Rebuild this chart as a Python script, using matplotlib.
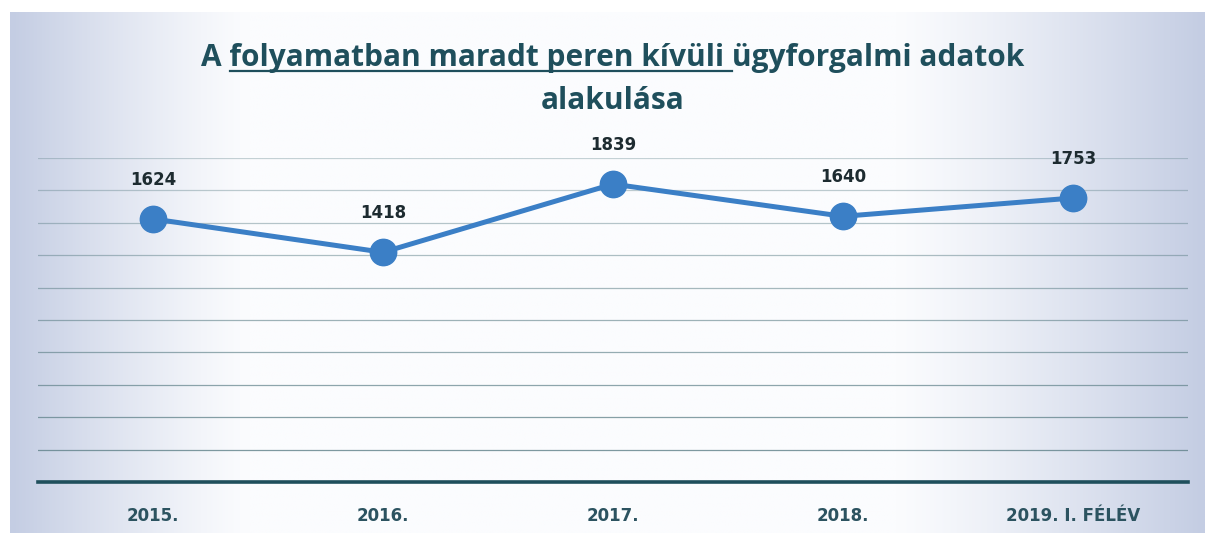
import numpy as np
import matplotlib.pyplot as plt
from matplotlib.colors import LinearSegmentedColormap

# Chart data
years = ['2015.', '2016.', '2017.', '2018.', '2019. I. FÉLÉV']
values = [1624, 1418, 1839, 1640, 1753]
grid_ticks = list(range(0, 2001, 200))

title_pre = 'A '
title_under = 'folyamatban maradt peren kívüli '
title_post = 'ügyforgalmi adatok'
title_line2 = 'alakulása'

line_color = '#3b7fc6'
teal = '#1f4f5c'

plt.rcParams['font.family'] = ['DejaVu Sans']

fig = plt.figure(figsize=(12.1, 5.35), dpi=100)
fig.patch.set_facecolor('white')

# scanned paper background: bluish at the edges, white in the middle
bg = fig.add_axes([0, 0, 1, 1], zorder=-10)
bg.set_axis_off()
xx = np.linspace(0, 1, 400)
shade = np.clip(np.maximum((0.2 - xx) / 0.2, (xx - 0.74) / 0.26), 0, 1) ** 1.2
shade = np.tile(shade, (60, 1))
cmap = LinearSegmentedColormap.from_list('paper', ['#fbfcfe', '#c4cde3'])
bg.imshow(shade, cmap=cmap, aspect='auto', vmin=0, vmax=1,
          extent=[10 / 1210, 1205 / 1210, 2 / 535, 523 / 535])
bg.set_xlim(0, 1)
bg.set_ylim(0, 1)

ax = fig.add_axes([38 / 1210, 1 - 482 / 535, 1150 / 1210, 324 / 535])
ax.patch.set_alpha(0)
x = np.arange(len(years))
ax.plot(x, values, color=line_color, lw=3.6, marker='o', markersize=19,
        solid_capstyle='round', zorder=3, clip_on=False)

for xi, v in zip(x, values):
    ax.annotate(str(v), (xi, v), xytext=(0, 28), textcoords='offset points',
                ha='center', va='center', fontsize=12, fontweight='bold',
                color='#1d2b30')

ax.set_xlim(-0.5, len(years) - 0.5)
ax.set_ylim(0, 2000)
ax.set_yticks(grid_ticks)
ax.tick_params(axis='y', left=False, labelleft=False)
# gridlines fade towards the top like on the scan
for g in grid_ticks[1:]:
    ax.axhline(g, color='#5f8189', lw=0.9, alpha=0.85 - 0.5 * g / 2000, zorder=1)
ax.set_xticks(x)
ax.set_xticklabels(years, fontsize=12, fontweight='bold', color='#2c5360')
ax.tick_params(axis='x', length=0, pad=18)
for side in ['top', 'right', 'left']:
    ax.spines[side].set_visible(False)
ax.spines['bottom'].set_color(teal)
ax.spines['bottom'].set_linewidth(2.6)

# title with underlined middle part
tkw = dict(fontsize=21.5, fontweight='bold', color=teal, va='baseline',
           family=['Open Sans', 'DejaVu Sans'])
full = fig.text(0.5066, 1 - 66 / 535, title_pre + title_under + title_post,
                ha='center', **tkw)
fig.canvas.draw()
r = fig.canvas.get_renderer()
bb = full.get_window_extent(r)
probe = fig.text(0, 0, title_pre, **tkw)
w_pre = probe.get_window_extent(r).width
probe.set_text(title_pre + title_under)
w_mid = probe.get_window_extent(r).width
probe.remove()
W = fig.bbox.width
fig.add_artist(plt.Line2D([(bb.x0 + w_pre) / W, (bb.x0 + w_mid) / W],
                          [1 - 71 / 535, 1 - 71 / 535], color=teal, lw=1.6))
fig.text(0.5066, 1 - 109 / 535, title_line2, ha='center', **tkw)

fig.savefig('out.png', dpi=100)
